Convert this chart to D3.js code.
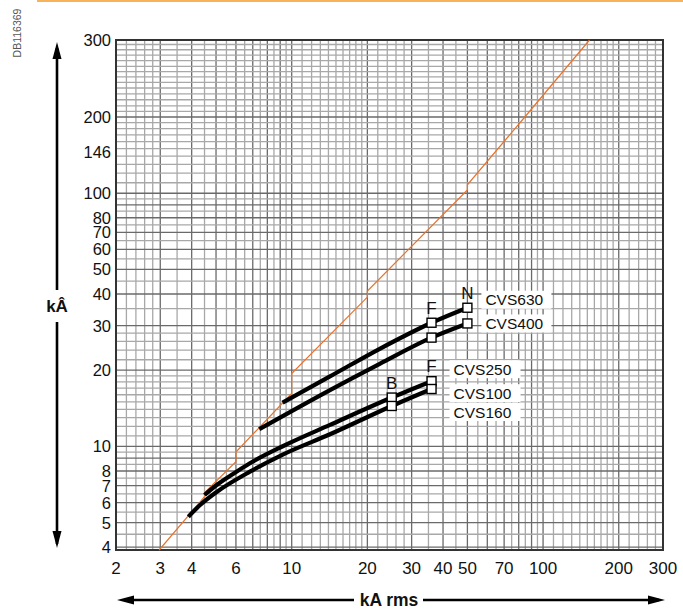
<!DOCTYPE html>
<html><head><meta charset="utf-8">
<script src="https://cdn.jsdelivr.net/npm/d3@7"></script>
<style>body{margin:0;background:#fff}svg{display:block}text{font-family:"Liberation Sans",Arial,sans-serif}</style>
</head><body><svg id="c" width="683" height="610"></svg>
<script>
// ---- data ----
const xTicks = [2,3,4,6,10,20,30,40,50,70,100,200,300];
const yTicks = [4,5,6,7,8,10,20,30,40,50,60,70,80,100,146,200,300];
const gridMantissa = [1,1.1,1.2,1.3,1.4,1.5,1.6,1.7,1.8,1.9,2,2.2,2.4,2.6,2.8,3,3.5,4,4.5,5,5.5,6,6.5,7,7.5,8,8.5,9,9.5];
const gridTop = [206,212,219,226,233,240,247,254,261,269,277,285,293];
// peak current limit (orange)
const limitKA  = [2.97,4.5,4.5,6,6,10,10,20,20,50,50,84.6,153];
const limitKPk = [3.9,6.33,6.57,8.7,9.5,16.2,19.4,38.9,41.1,103,108,200,300];
// limited peak current curves
const cvs630KA = [9.2,14.2,22.4,36,50];
const cvs630Pk = [14.9,18.9,24.3,30.8,35.3];
const cvs400KA = [7.43,14.2,22.4,36,50];
const cvs400Pk = [11.7,16.7,21.2,26.9,30.6];
const cvs250KA = [4.5,5.03,5.84,6.82,9.26,14.2,25,36];
const cvs250Pk = [6.43,7.04,7.78,8.58,10.04,12.16,15.6,18.1];
const cvs160KA = [3.88,4.32,5.03,6.82,9.26,14.2,25,36];
const cvs160Pk = [5.28,5.87,6.61,7.95,9.31,11.17,14.45,16.86];
const markerKA = [25,36,50];
const seriesNames = ["CVS630","CVS400","CVS250","CVS100","CVS160"];
const ratingLetters = ["N","F","F","B"];

// ---- layout ----
const svg = d3.select("#c");
const L=116, R=663, T=40, B=550;
const x = d3.scaleLog().domain([2,300]).range([L,R]);
const y = d3.scaleLog().domain([3.9,200,300]).range([B,117,T]);

// top orange rule
svg.append("rect").attr("x",37).attr("y",0).attr("width",646).attr("height",2).attr("fill","#f7b25a");
// DB code
svg.append("text").attr("transform","translate(21,33) rotate(-90)").attr("text-anchor","middle")
  .attr("font-size",10.5).attr("fill","#555").text("DB116369");

// grid
const g = svg.append("g");
const xg=[], yg=[];
[1,10,100].forEach(d=>gridMantissa.forEach(m=>{const v=+(m*d).toFixed(4); if(v>2&&v<300) xg.push(v);}));
[1,10,100].forEach(d=>gridMantissa.forEach(m=>{const v=+(m*d).toFixed(4); if(v>=4&&v<200) yg.push(v);}));
yg.push(200); gridTop.forEach(v=>yg.push(v));
const isMajor = v => { const p=Math.pow(10,Math.floor(Math.log10(v)+1e-9)); return Math.abs(v/p-Math.round(v/p))<1e-6; };
g.selectAll("line.v").data(xg).join("line").attr("class","v")
  .attr("x1",d=>x(d)).attr("x2",d=>x(d)).attr("y1",T).attr("y2",B)
  .attr("stroke",d=>isMajor(d)?"#6a6a6a":"#a8a8a8").attr("stroke-width",1.3);
g.selectAll("line.h").data(yg).join("line").attr("class","h")
  .attr("y1",d=>y(d)).attr("y2",d=>y(d)).attr("x1",L).attr("x2",R)
  .attr("stroke",d=>isMajor(d)?"#6a6a6a":"#a8a8a8").attr("stroke-width",1.3);
g.append("rect").attr("x",L).attr("y",T).attr("width",R-L).attr("height",B-T)
  .attr("fill","none").attr("stroke","#333").attr("stroke-width",2);

// tick labels
svg.selectAll("text.yt").data(yTicks).join("text").attr("class","yt")
  .attr("x",L-5).attr("y",d=>y(d)).attr("dy","0.36em").attr("text-anchor","end")
  .attr("font-size",16.5).attr("fill","#111").text(d=>d);
svg.selectAll("text.xt").data(xTicks).join("text").attr("class","xt")
  .attr("x",d=>x(d)).attr("y",B+24).attr("text-anchor","middle")
  .attr("font-size",17).attr("fill","#111").text(d=>d);

// limit line
const line = d3.line().x(d=>x(d[0])).y(d=>y(d[1]));
svg.append("path").datum(d3.zip(limitKA,limitKPk)).attr("d",line)
  .attr("fill","none").attr("stroke","#e8732c").attr("stroke-width",1.2);

// curves
const curveLine = d3.line().x(d=>x(d[0])).y(d=>y(d[1])).curve(d3.curveMonotoneX);
const curves = [d3.zip(cvs630KA,cvs630Pk), d3.zip(cvs400KA,cvs400Pk), d3.zip(cvs250KA,cvs250Pk), d3.zip(cvs160KA,cvs160Pk)];
svg.selectAll("path.c").data(curves).join("path").attr("class","c").attr("d",curveLine)
  .attr("fill","none").attr("stroke","#000").attr("stroke-width",4.2).attr("stroke-linecap","butt");
const marks = curves.flatMap(c=>c.filter(p=>markerKA.includes(p[0])));
svg.selectAll("rect.m").data(marks).join("rect").attr("class","m")
  .attr("x",d=>x(d[0])-4.5).attr("y",d=>y(d[1])-4.5).attr("width",9).attr("height",9)
  .attr("fill","#fff").attr("stroke","#000").attr("stroke-width",1.4);

// rating letters
const lastOf = c => c[c.length-1];
const letterAt = [lastOf(curves[0]), curves[0][3], lastOf(curves[2]), curves[2][6]];
svg.selectAll("text.r").data(letterAt).join("text").attr("class","r")
  .attr("x",d=>x(d[0])).attr("y",d=>y(d[1])-9).attr("text-anchor","middle")
  .attr("font-size",17).attr("fill","#111").text((d,i)=>ratingLetters[i]);

// series labels with white boxes
const labAnchor = [
  [lastOf(curves[0]), 18, -8, 70],
  [lastOf(curves[1]), 18, 0, 70],
  [lastOf(curves[2]), 22, -12, 71],
  [lastOf(curves[2]), 22, 12, 71],
  [lastOf(curves[3]), 22, 23, 71]
];
labAnchor.forEach((a,i)=>{
  const px = x(a[0][0])+a[1], py = y(a[0][1])+a[2];
  svg.append("rect").attr("x",px-4).attr("y",py-9).attr("width",a[3]).attr("height",18).attr("fill","#fff");
  svg.append("text").attr("x",px).attr("y",py).attr("dy","0.36em").attr("font-size",15.5)
    .attr("fill","#111").text(seriesNames[i]);
});

// axis arrows
function arrowHead(x0,y0,dir){
  const a=8, l=17; let p;
  if(dir==="up") p=[[x0,y0],[x0-a/2-0.5,y0+l],[x0+a/2+0.5,y0+l]];
  if(dir==="down") p=[[x0,y0],[x0-a/2-0.5,y0-l],[x0+a/2+0.5,y0-l]];
  if(dir==="left") p=[[x0,y0],[x0+l,y0-a/2-0.5],[x0+l,y0+a/2+0.5]];
  if(dir==="right") p=[[x0,y0],[x0-l,y0-a/2-0.5],[x0-l,y0+a/2+0.5]];
  svg.append("path").attr("d","M"+p.join("L")+"Z").attr("fill","#000");
}
const ax = 57, ay = 600;
svg.append("line").attr("x1",ax).attr("x2",ax).attr("y1",T+8).attr("y2",290).attr("stroke","#000").attr("stroke-width",2.6);
svg.append("line").attr("x1",ax).attr("x2",ax).attr("y1",322).attr("y2",B-6).attr("stroke","#000").attr("stroke-width",2.6);
arrowHead(ax,T+2,"up"); arrowHead(ax,B-2,"down");
svg.append("text").attr("x",ax).attr("y",306).attr("dy","0.36em").attr("text-anchor","middle")
  .attr("font-size",17).attr("font-weight","bold").attr("fill","#111").text("kÂ");
svg.append("line").attr("x1",L+8).attr("x2",354).attr("y1",ay).attr("y2",ay).attr("stroke","#000").attr("stroke-width",2.6);
svg.append("line").attr("x1",423).attr("x2",R-4).attr("y1",ay).attr("y2",ay).attr("stroke","#000").attr("stroke-width",2.6);
arrowHead(L+1,ay,"left"); arrowHead(R+2,ay,"right");
svg.append("text").attr("x",389).attr("y",ay).attr("dy","0.36em").attr("text-anchor","middle")
  .attr("font-size",17.5).attr("font-weight","bold").attr("fill","#111").text("kA rms");
</script></body></html>
